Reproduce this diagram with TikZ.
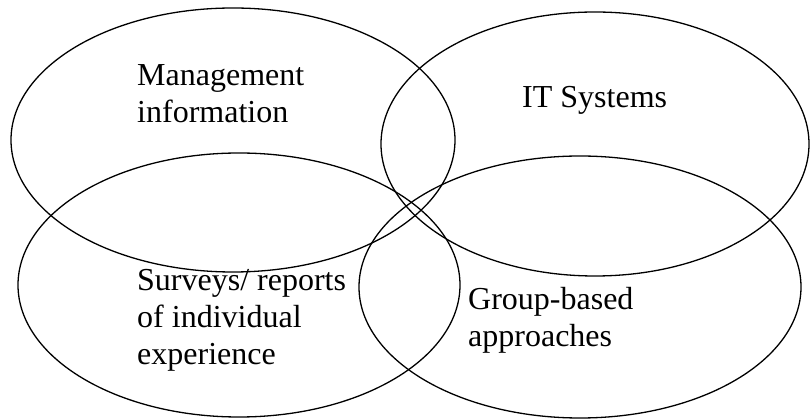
\documentclass[tikz,border=0pt]{standalone}
\usepackage{fontspec}
\setmainfont{Liberation Serif}
\begin{document}
\begin{tikzpicture}[x=1pt,y=1pt,
  ring/.style={draw=black,line width=1.3pt},
  label/.style={inner sep=0pt,anchor=base west,font=\fontsize{32}{37}\selectfont}]
\useasboundingbox (0,0) rectangle (811,420);
% four overlapping sets
\draw[ring] (233,280) ellipse [x radius=222,y radius=132];
\draw[ring] (595,276) ellipse [x radius=214,y radius=132];
\draw[ring] (239,135) ellipse [x radius=221,y radius=132];
\draw[ring] (580,133) ellipse [x radius=221,y radius=131];
% set labels
\node[label] (mgmt) at (137,334) {\begin{tabular}[t]{@{}l@{}}Management\\information\end{tabular}};
\node[label] (it) at (522,312) {IT Systems};
\node[label] (surv) at (137,129) {\begin{tabular}[t]{@{}l@{}}Surveys/ reports\\of individual\\experience\end{tabular}};
\node[label] (grp) at (468,110) {\begin{tabular}[t]{@{}l@{}}Group-based\\approaches\end{tabular}};
\end{tikzpicture}
\end{document}
